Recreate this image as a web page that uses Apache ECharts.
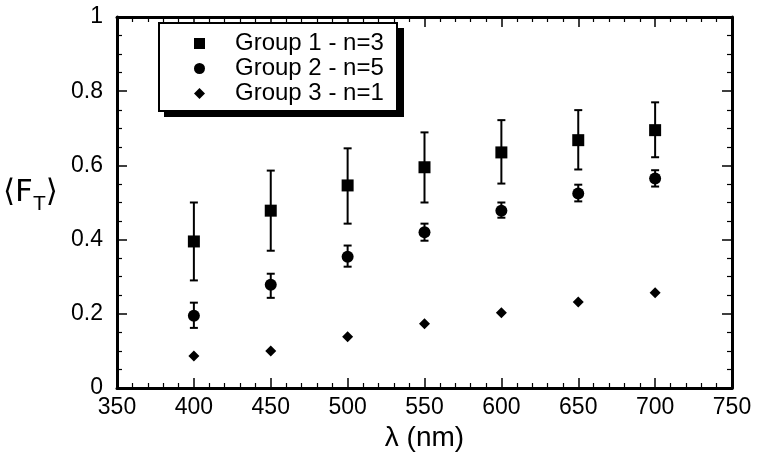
<!DOCTYPE html>
<html lang="en">
<head>
  <meta charset="UTF-8">
  <title>F_T vs wavelength</title>
  <style>
    * { margin: 0; padding: 0; }
    body { background: #ffffff; }
    #chart { width: 760px; height: 453px; }
  </style>
</head>
<body>
  <div id="chart"></div>
  <script src="https://cdn.jsdelivr.net/npm/echarts@6/dist/echarts.min.js"></script>
  <script type="text/javascript">
  var wavelengths = [400, 450, 500, 550, 600, 650, 700];
  var group1 = [0.395, 0.478, 0.546, 0.595, 0.635, 0.668, 0.695];
  var group1Low = [0.29, 0.37, 0.443, 0.5, 0.551, 0.589, 0.622];
  var group1High = [0.5, 0.586, 0.646, 0.689, 0.722, 0.749, 0.77];
  var group2 = [0.195, 0.278, 0.354, 0.42, 0.478, 0.524, 0.565];
  var group2Low = [0.162, 0.243, 0.327, 0.397, 0.459, 0.503, 0.543];
  var group2High = [0.23, 0.308, 0.384, 0.443, 0.5, 0.548, 0.587];
  var group3 = [0.086, 0.1, 0.138, 0.173, 0.203, 0.232, 0.257];
  var names = ['Group 1 - n=3', 'Group 2 - n=5', 'Group 3 - n=1'];

  var font = "'Liberation Sans', Arial, sans-serif";

  function points (ys) {
    return wavelengths.map(function (x, i) { return [x, ys[i]]; });
  }
  function bars (lo, hi) {
    return wavelengths.map(function (x, i) { return [x, lo[i], hi[i]]; });
  }

  function errorBar (params, api) {
    var x = api.value(0);
    var top = api.coord([x, api.value(2)]);
    var bot = api.coord([x, api.value(1)]);
    var w = 4;
    var style = { stroke: '#000', lineWidth: 2 };
    return {
      type: 'group',
      children: [
        { type: 'line', shape: { x1: top[0], y1: top[1], x2: bot[0], y2: bot[1] }, style: style },
        { type: 'line', shape: { x1: top[0] - w, y1: top[1], x2: top[0] + w, y2: top[1] }, style: style },
        { type: 'line', shape: { x1: bot[0] - w, y1: bot[1], x2: bot[0] + w, y2: bot[1] }, style: style }
      ]
    };
  }

  function axisBase (show) {
    return {
      axisLine: { show: true, onZero: false, lineStyle: { color: '#000', width: 3 } },
      axisTick: { show: true, inside: true, length: 10, lineStyle: { color: '#000', width: 1.5 } },
      minorTick: { show: true, length: 5, lineStyle: { color: '#000', width: 1.2 } },
      splitLine: { show: false },
      axisLabel: { show: show, color: '#000', fontSize: 23, fontFamily: font }
    };
  }

  function main () {
    var chart = echarts.init(document.getElementById('chart'));

    var xMain = Object.assign(axisBase(true), {
      type: 'value', min: 350, max: 750, interval: 50, position: 'bottom',
      name: 'λ (nm)', nameLocation: 'middle', nameGap: 31,
      nameTextStyle: { color: '#000', fontSize: 28, fontFamily: font }
    });
    xMain.minorTick.splitNumber = 5;
    xMain.axisLabel.margin = 8;
    var xTop = Object.assign(axisBase(false), { type: 'value', min: 350, max: 750, interval: 50, position: 'top' });
    xTop.minorTick.splitNumber = 5;

    var yMain = Object.assign(axisBase(true), { type: 'value', min: 0, max: 1, interval: 0.2, position: 'left' });
    yMain.minorTick.splitNumber = 4;
    yMain.axisLabel.margin = 14;
    var yRight = Object.assign(axisBase(false), { type: 'value', min: 0, max: 1, interval: 0.2, position: 'right' });
    yRight.minorTick.splitNumber = 4;

    var option = {
      animation: false,
      backgroundColor: '#fff',
      grid: { left: 117, right: 28, top: 17, bottom: 65, outerBoundsMode: 'none', containLabel: false },
      xAxis: [xMain, xTop],
      yAxis: [yMain, yRight],
      legend: {
        data: names,
        orient: 'vertical',
        left: 158,
        top: 22,
        padding: [9, 8, 6, 36],
        itemWidth: 11,
        itemHeight: 11,
        itemGap: 0,
        selectedMode: false,
        z: 10,
        textStyle: { color: '#000', fontSize: 24, fontFamily: font, lineHeight: 25, padding: [0, 0, 0, 25] }
      },
      graphic: [
        // legend frame with its hard drop shadow
        { type: 'rect', left: 164, top: 28, z: 5, shape: { width: 240, height: 89 }, style: { fill: '#000' } },
        { type: 'rect', left: 158, top: 22, z: 6, shape: { width: 238, height: 88 },
          style: { fill: '#fff', stroke: '#000', lineWidth: 2 } },
        {
          type: 'text',
          left: 3,
          top: 177,
          style: {
            text: '⟨F{sub|T}⟩',
            fill: '#000',
            font: "31px 'DejaVu Sans', 'Liberation Sans', sans-serif",
            rich: {
              sub: { fontSize: 21, fontFamily: font, padding: [23, 0, 0, 0], fill: '#000' }
            }
          }
        }
      ],
      series: [
        { type: 'custom', name: 'err1', renderItem: errorBar, data: bars(group1Low, group1High), z: 1 },
        { type: 'custom', name: 'err2', renderItem: errorBar, data: bars(group2Low, group2High), z: 1 },
        { type: 'scatter', name: names[0], data: points(group1), symbol: 'rect', symbolSize: 12,
          itemStyle: { color: '#000', opacity: 1 }, z: 3 },
        { type: 'scatter', name: names[1], data: points(group2), symbol: 'circle', symbolSize: 12,
          itemStyle: { color: '#000', opacity: 1 }, z: 3 },
        { type: 'scatter', name: names[2], data: points(group3), symbol: 'diamond', symbolSize: 11,
          itemStyle: { color: '#000', opacity: 1 }, z: 3 }
      ]
    };
    chart.setOption(option);
  }

  window.addEventListener('load', main);
  </script>
</body>
</html>
